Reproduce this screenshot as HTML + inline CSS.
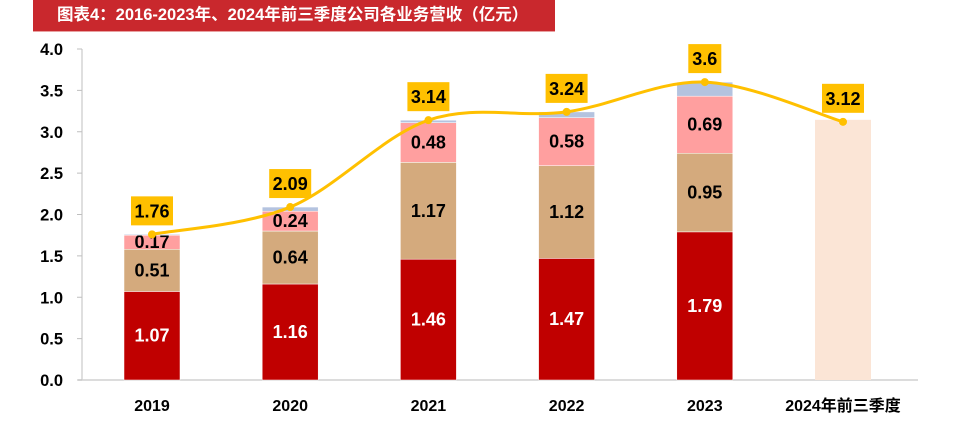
<!DOCTYPE html>
<html><head><meta charset="utf-8">
<style>
body{margin:0;background:#fff;width:960px;height:433px;overflow:hidden;font-family:"Liberation Sans","Noto Sans CJK SC",sans-serif;}
#title{position:absolute;left:33px;top:0;width:522px;height:32px;background:#c9282d;color:#fff;font-weight:bold;font-size:16.5px;line-height:30px;padding-left:24px;box-sizing:border-box;border-bottom:1px solid #e8a0a0;white-space:nowrap;}
svg{position:absolute;left:0;top:0;}
text{font-family:"Liberation Sans","Noto Sans CJK SC",sans-serif;font-weight:bold;}
</style></head><body>
<div id="title">图表4：2016-2023年、2024年前三季度公司各业务营收（亿元）</div>
<svg id="chart" width="960" height="433"></svg>
<script>
const categories=["2019","2020","2021","2022","2023","2024年前三季度"];
const seriesA=[1.07,1.16,1.46,1.47,1.79,null];
const seriesB=[0.51,0.64,1.17,1.12,0.95,null];
const seriesC=[0.17,0.24,0.48,0.58,0.69,null];
const seriesD=[0.01,0.05,0.03,0.07,0.17,null];
const totals=[1.76,2.09,3.14,3.24,3.6,3.12];
const totalLabels=["1.76","2.09","3.14","3.24","3.6","3.12"];
const ticks=[0,0.5,1,1.5,2,2.5,3,3.5,4];
const tickLabels=["0.0","0.5","1.0","1.5","2.0","2.5","3.0","3.5","4.0"];

const NS="http://www.w3.org/2000/svg";
const svg=document.getElementById('chart');
const y0=380,yTop=49,vmax=4;
function yScale(v){return y0-(v/vmax)*(y0-yTop);}
function xScale(i){return 152+i*138.2;}
const bw=56;
function mk(tag,attrs,parent){const e=document.createElementNS(NS,tag);for(const k in attrs)e.setAttribute(k,attrs[k]);(parent||svg).appendChild(e);return e;}

let ax=mk('line',{x1:82,y1:yTop,x2:82,y2:y0,stroke:'#bfbfbf','stroke-width':1});


let bx=mk('line',{x1:78,y1:y0,x2:918,y2:y0,stroke:'#d0d0d0','stroke-width':1.5});


ticks.forEach((t,i)=>{
  const yy=yScale(t);
  const tk=mk('line',{x1:77,y1:yy,x2:82,y2:yy,stroke:'#bfbfbf'});
  
  
  const tx=mk('text',{x:63,y:yy+6,'text-anchor':'end','font-size':16.5,fill:'#000'});
  tx.textContent=tickLabels[i];
  
  
});
categories.forEach((c,i)=>{
  const tx=mk('text',{x:xScale(i),y:411,'text-anchor':'middle','font-size':16,fill:'#000'});
  tx.textContent=c;
  
  
});

const series=[[seriesA,'#c00000','#fff'],[seriesB,'#d4aa7d','#000'],[seriesC,'#ff9f9f','#000'],[seriesD,'#b4c3df',null]];
categories.forEach((c,i)=>{
  const cx=xScale(i);
  if(seriesA[i]==null){
    const r=mk('rect',{x:cx-bw/2,y:yScale(totals[i])-2,width:bw,height:y0-yScale(totals[i])+2,fill:'#fbe5d6'});
    
    
    return;
  }
  let base=0;
  series.forEach(([arr,col,tc],si)=>{
    const v=arr[i];
    const yb=yScale(base),yt=yScale(base+v);
    const r=mk('rect',{x:cx-bw/2,y:yt,width:bw,height:yb-yt,fill:col,stroke:'#fff','stroke-width':0.5});
    
    
    if(tc){
      const t=mk('text',{x:cx,y:(yb+yt)/2+6,'text-anchor':'middle','font-size':18,fill:tc});
      t.textContent=v.toFixed(2);
      
      
    }
    base+=v;
  });
});

const pts=totals.map((v,i)=>[xScale(i),yScale(v)]);
let d=`M${pts[0][0]},${pts[0][1]}`;
for(let i=0;i<pts.length-1;i++){
  const p0=pts[Math.max(i-1,0)],p1=pts[i],p2=pts[i+1],p3=pts[Math.min(i+2,pts.length-1)];
  const c1=[p1[0]+(p2[0]-p0[0])/6,p1[1]+(p2[1]-p0[1])/6];
  const c2=[p2[0]-(p3[0]-p1[0])/6,p2[1]-(p3[1]-p1[1])/6];
  d+=` C${c1[0]},${c1[1]} ${c2[0]},${c2[1]} ${p2[0]},${p2[1]}`;
}
const ln=mk('path',{d:d,fill:'none',stroke:'#ffc000','stroke-width':3});


pts.forEach((p,i)=>{
  const c=mk('circle',{cx:p[0],cy:p[1],r:4,fill:'#ffc000'});
  
  
  const w=totalLabels[i].length>3?42:33;
  const bx=mk('rect',{x:p[0]-w/2,y:p[1]-38,width:w,height:29,fill:'#ffc000'});
  
  
  const t=mk('text',{x:p[0],y:p[1]-17,'text-anchor':'middle','font-size':18,fill:'#000'});
  t.textContent=totalLabels[i];
  
  
});
</script>
</body></html>
